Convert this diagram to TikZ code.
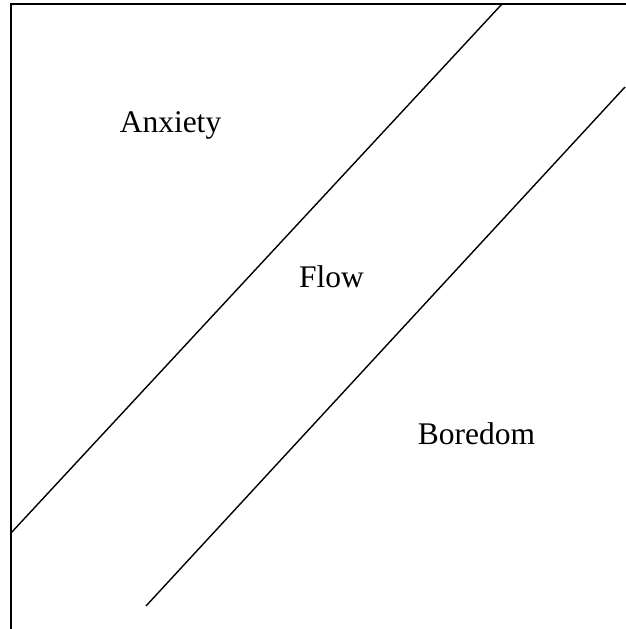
\documentclass[tikz,border=0pt]{standalone}
\usepackage{fontspec}
\setmainfont{Liberation Serif}
\begin{document}
\begin{tikzpicture}[x=1pt,y=-1pt,
  lbl/.style={anchor=base,inner sep=0pt,font=\fontsize{31.5}{38}\selectfont},
  frameline/.style={line width=2pt,line cap=rect},
  diag/.style={line width=1.4pt}]
\useasboundingbox (0,0) rectangle (625,629);
\coordinate (tr) at (625,4);
\coordinate (tl) at (11,4);
\coordinate (bl) at (11,629);
\draw[frameline] (bl) -- (tl) -- (tr);
\coordinate (a1) at (11,533);
\coordinate (a2) at (502,4);
\coordinate (b1) at (146,606);
\coordinate (b2) at (625,87);
\draw[diag] (a1) -- (a2);
\draw[diag] (b1) -- (b2);
\node[lbl] (anx) at (170.5,132.5) {Anxiety};
\node[lbl] (flow) at (331.5,287) {Flow};
\node[lbl] (bor) at (476.5,444) {Boredom};
\end{tikzpicture}
\end{document}
